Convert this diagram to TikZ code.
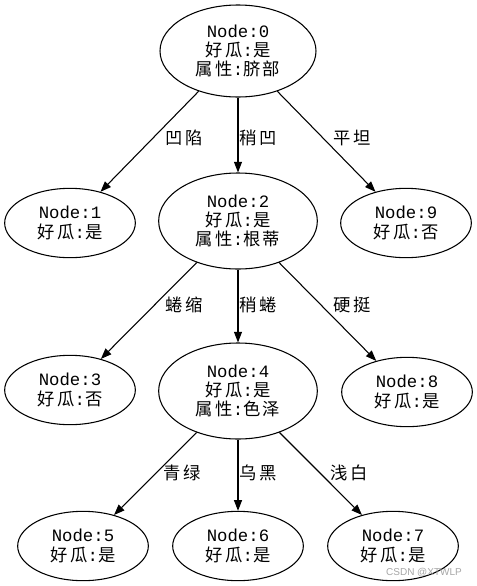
\documentclass[tikz,border=0pt]{standalone}
\usepackage{fontspec}
\setmainfont{Liberation Mono}
\newfontfamily\cjk[LetterSpace=14]{Noto Sans CJK SC}
\newfontfamily\mono{Liberation Mono}
\newfontfamily\wmfont{Liberation Sans}
\usetikzlibrary{shapes.geometric,arrows.meta}
\newcommand\glab[2]{{\cjk #1}{\mono:}{\cjk #2}}
\begin{document}
\begin{tikzpicture}[x=0.75pt,y=-0.75pt,
  tn/.style={ellipse, draw, line width=0.8pt, inner sep=0pt, align=center,
    font=\fontsize{13}{14.5}\selectfont},
  big/.style={tn, minimum width=119pt, minimum height=72pt},
  top/.style={tn, minimum width=117pt, minimum height=69pt},
  leaf/.style={tn, minimum width=98pt, minimum height=52pt},
  arr/.style={line width=0.8pt, -{Triangle[length=8pt,width=6pt]}},
  elab/.style={font=\cjk\fontsize{13}{13}\selectfont, inner sep=0pt}]
\useasboundingbox (0,0) rectangle (477,586);
\node[top] (n0) at (238,51) {{\mono Node:0}\\\glab{好瓜}{是}\\\glab{属性}{脐部}};
\node[leaf] (n1) at (70,223) {{\mono Node:1}\\\glab{好瓜}{是}};
\node[big] (n2) at (238,221) {{\mono Node:2}\\\glab{好瓜}{是}\\\glab{属性}{根蒂}};
\node[leaf] (n9) at (406,223) {{\mono Node:9}\\\glab{好瓜}{否}};
\node[leaf] (n3) at (70,390) {{\mono Node:3}\\\glab{好瓜}{否}};
\node[big] (n4) at (238,391) {{\mono Node:4}\\\glab{好瓜}{是}\\\glab{属性}{色泽}};
\node[leaf] (n8) at (407,392) {{\mono Node:8}\\\glab{好瓜}{是}};
\node[leaf] (n5) at (83,546) {{\mono Node:5}\\\glab{好瓜}{是}};
\node[leaf] (n6) at (238,546) {{\mono Node:6}\\\glab{好瓜}{是}};
\node[leaf] (n7) at (393,546) {{\mono Node:7}\\\glab{好瓜}{是}};
\draw[arr] (n0) -- (n1);
\draw[arr] (n0) -- (n2);
\draw[arr] (n0) -- (n9);
\draw[arr] (n2) -- (n3);
\draw[arr] (n2) -- (n4);
\draw[arr] (n2) -- (n8);
\draw[arr] (n4) -- (n5);
\draw[arr] (n4) -- (n6);
\draw[arr] (n4) -- (n7);
\node[elab] (l1) at (184,138) {凹陷};
\node[elab] (l2) at (258,138) {稍凹};
\node[elab] (l9) at (352,138) {平坦};
\node[elab] (l3) at (184,305) {蜷缩};
\node[elab] (l4) at (258,305) {稍蜷};
\node[elab] (l8) at (352,305) {硬挺};
\node[elab] (l5) at (182,473) {青绿};
\node[elab] (l6) at (258,473) {乌黑};
\node[elab] (l7) at (349,473) {浅白};
\node[font=\wmfont\fontsize{7.5}{8}\selectfont, text=black!35, inner sep=0pt] (wm) at (424,573) {CSDN @XTWLP};
\end{tikzpicture}
\end{document}
